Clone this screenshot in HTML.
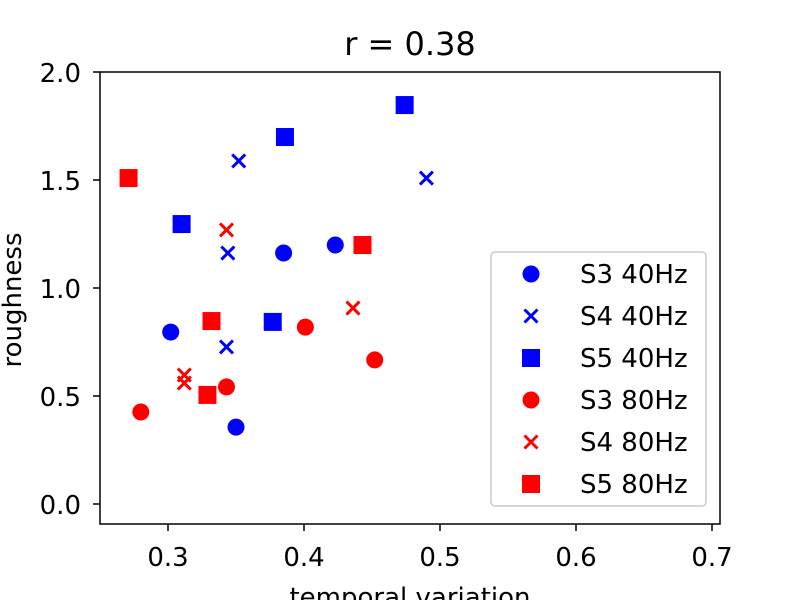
<!DOCTYPE html>
<html><head><meta charset="utf-8"><style>body{margin:0;background:#fff}svg{display:block;font-family:"DejaVu Sans","Liberation Sans",sans-serif}</style></head>
<body>
<svg id="c" width="800" height="600"></svg>
<script>
const xTicks=[0.3,0.4,0.5,0.6,0.7];
const yTicks=[0.0,0.5,1.0,1.5,2.0];
const s3_40x=[0.302,0.350,0.385,0.423], s3_40y=[0.796,0.356,1.162,1.199];
const s4_40x=[0.352,0.344,0.343,0.490], s4_40y=[1.588,1.162,0.727,1.509];
const s5_40x=[0.310,0.386,0.377,0.474], s5_40y=[1.296,1.699,0.843,1.847];
const s3_80x=[0.280,0.343,0.401,0.452], s3_80y=[0.426,0.542,0.819,0.667];
const s4_80x=[0.312,0.312,0.343,0.436], s4_80y=[0.597,0.560,1.269,0.907];
const s5_80x=[0.271,0.332,0.329,0.443], s5_80y=[1.509,0.847,0.505,1.199];
const seriesNames=["S3 40Hz","S4 40Hz","S5 40Hz","S3 80Hz","S4 80Hz","S5 80Hz"];
const NS="http://www.w3.org/2000/svg",svg=document.getElementById('c');
const L=100,R=720,T=72,B=524;
const sx=v=>168+(v-0.3)*1360, sy=v=>504-v*216;
function mk(t,a,p){const e=document.createElementNS(NS,t);for(const k in a)e.setAttribute(k,a[k]);(p||svg).appendChild(e);return e;}
function marker(kind,x,y,col,name){let e;
 if(kind==='o')e=mk('circle',{cx:x,cy:y,r:8.5,fill:col});
 else if(kind==='s')e=mk('rect',{x:x-9,y:y-9,width:18,height:18,fill:col});
 else e=mk('path',{d:`M${x-6.5},${y-6.5}L${x+6.5},${y+6.5}M${x-6.5},${y+6.5}L${x+6.5},${y-6.5}`,stroke:col,'stroke-width':3,fill:'none'});
 
 return e;}
const t=mk('text',{x:410,y:55,'font-size':32,'text-anchor':'middle'});t.textContent='r = 0.38';

xTicks.forEach(v=>{const x=sx(v);mk('line',{x1:x,x2:x,y1:B,y2:B+7,stroke:'#000','stroke-width':1.5});
 const e=mk('text',{x:x,y:566,'font-size':26,'text-anchor':'middle'});e.textContent=v.toFixed(1);
 });
yTicks.forEach(v=>{const y=sy(v);mk('line',{x1:L-7,x2:L,y1:y,y2:y,stroke:'#000','stroke-width':1.5});
 const e=mk('text',{x:L-19,y:y+10,'font-size':26,'text-anchor':'end'});e.textContent=v.toFixed(1);
 });
const xl=mk('text',{x:410,y:606,'font-size':26,'text-anchor':'middle'});xl.textContent='temporal variation';

const yl=mk('text',{x:21,y:300,'font-size':26,'text-anchor':'middle',transform:'rotate(-90 21 300)'});yl.textContent='roughness';

const S=[[s3_40x,s3_40y,'o','#0000ff'],[s4_40x,s4_40y,'x','#0000ff'],[s5_40x,s5_40y,'s','#0000ff'],[s3_80x,s3_80y,'o','#ff0000'],[s4_80x,s4_80y,'x','#ff0000'],[s5_80x,s5_80y,'s','#ff0000']];
S.forEach((s,i)=>s[0].forEach((v,j)=>marker(s[2],sx(v),sy(s[1][j]),s[3],'point-'+seriesNames[i].toLowerCase().replace(' ','-'))));
const frame=mk('rect',{x:L,y:T,width:R-L,height:B-T,fill:'none',stroke:'#000','stroke-width':1.5});

const lg=mk('rect',{x:491,y:252,width:215,height:254,rx:4,fill:'#fff','fill-opacity':0.8,stroke:'#ccc','stroke-width':1.5});

seriesNames.forEach((n,i)=>{const y=274+i*42;marker(S[i][2],531,y,S[i][3],'legend-marker');
 const e=mk('text',{x:580,y:y+9,'font-size':26});e.textContent=n;
 });
</script>
</body></html>
